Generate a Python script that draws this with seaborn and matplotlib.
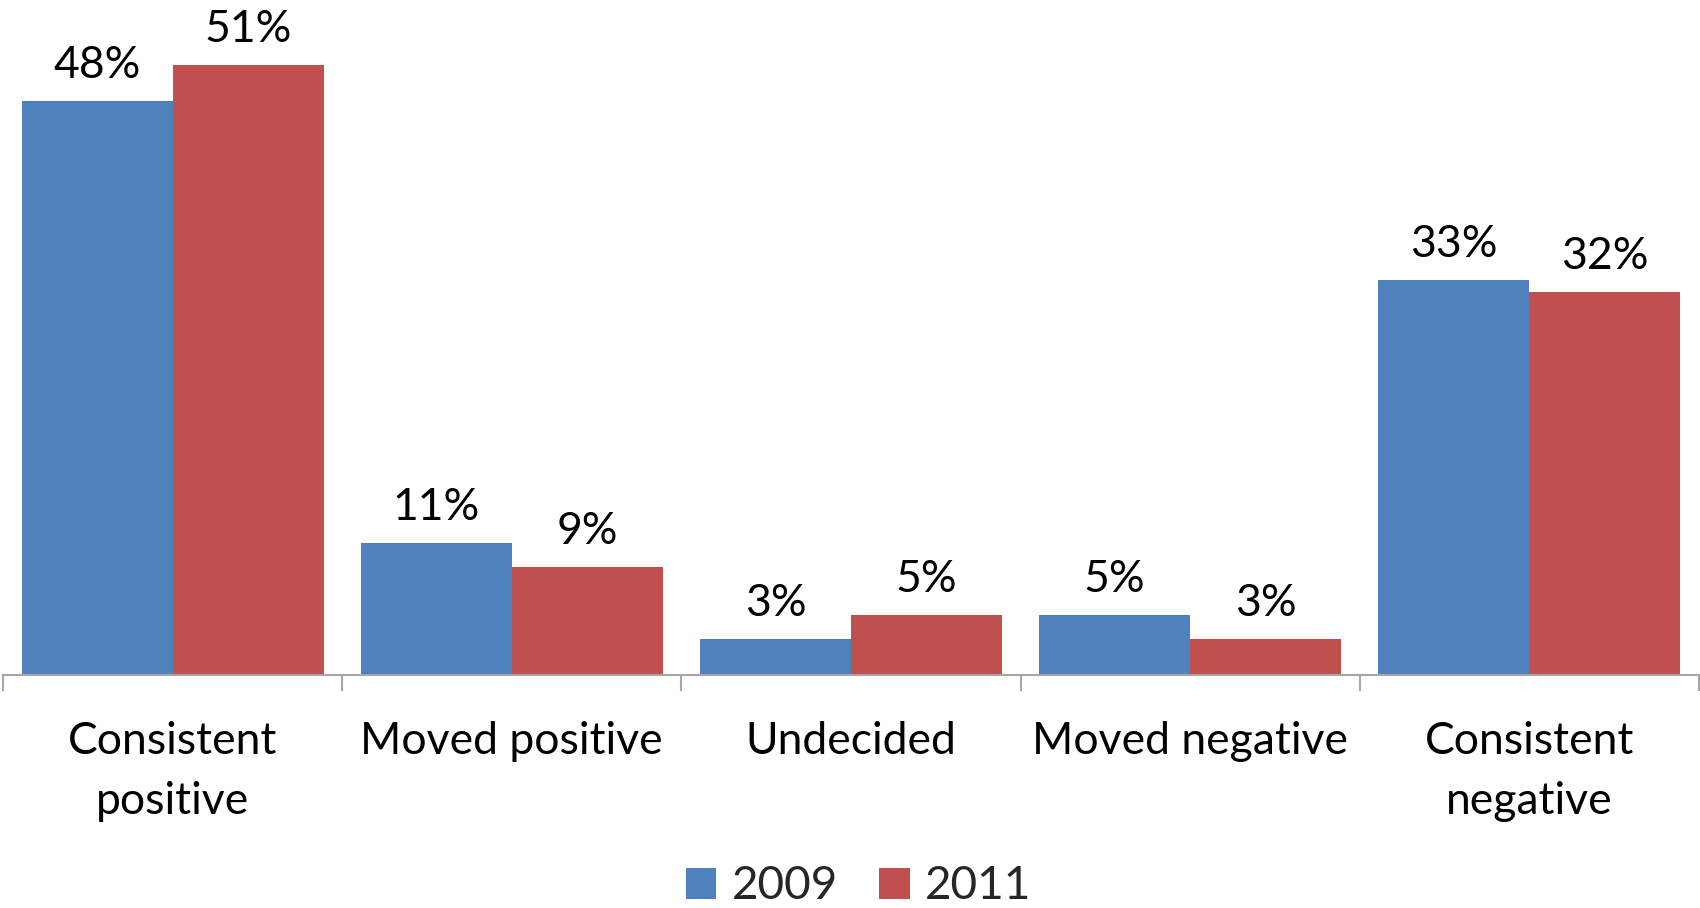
import matplotlib
matplotlib.use("Agg")
import matplotlib.pyplot as plt
import seaborn as sns
import pandas as pd
from matplotlib.patches import Patch

categories = ["Consistent\npositive", "Moved positive", "Undecided", "Moved negative", "Consistent\nnegative"]
years = ["2009", "2011"]
values_2009 = [48, 11, 3, 5, 33]
values_2011 = [51, 9, 5, 3, 32]
colors = ["#4F81BD", "#C0504D"]

df = pd.DataFrame({
    "category": categories * 2,
    "year": [years[0]] * len(categories) + [years[1]] * len(categories),
    "value": values_2009 + values_2011,
})

sns.set_theme(style="white")
plt.rcParams["font.family"] = ["Lato", "DejaVu Sans"]

fig = plt.figure(figsize=(17, 9.08), dpi=100)
ax = fig.add_axes([3 / 1700, 0.2569, 1696 / 1700, 0.7431])

sns.barplot(data=df, x="category", y="value", hue="year", order=categories,
            hue_order=years, palette=colors, width=0.89, saturation=1,
            edgecolor="none", linewidth=0, ax=ax, legend=False)

for cont in ax.containers:
    ax.bar_label(cont, labels=[f"{v:.0f}%" for v in cont.datavalues],
                 padding=11, fontsize=32, color="black")

ax.set_xlim(-0.5, len(categories) - 0.5)
ax.set_ylim(0, 56.44)
ax.set_xlabel("")
ax.set_ylabel("")
ax.set_yticks([])
for s in ["top", "left", "right"]:
    ax.spines[s].set_visible(False)
ax.spines["bottom"].set_color("#A6A6A6")
ax.spines["bottom"].set_linewidth(1.5)

ax.set_xticks(range(len(categories)))
ax.set_xticklabels(categories, fontsize=32, linespacing=1.6)
ax.tick_params(axis="x", which="major", bottom=False, length=0, pad=33, colors="black")
ax.set_xticks([i - 0.5 for i in range(len(categories) + 1)], minor=True)
ax.tick_params(axis="x", which="minor", bottom=True, length=11.5, width=1.5,
               color="#A6A6A6", direction="out")

handles = [Patch(facecolor=c, edgecolor="none") for c in colors]
fig.legend(handles, years, loc="center", bbox_to_anchor=(0.505, 0.024), ncol=2,
           frameon=False, fontsize=33, handlelength=0.67, handleheight=0.67,
           handletextpad=0.33, columnspacing=0.9, borderpad=0, borderaxespad=0)

fig.savefig("out.png", dpi=100)
